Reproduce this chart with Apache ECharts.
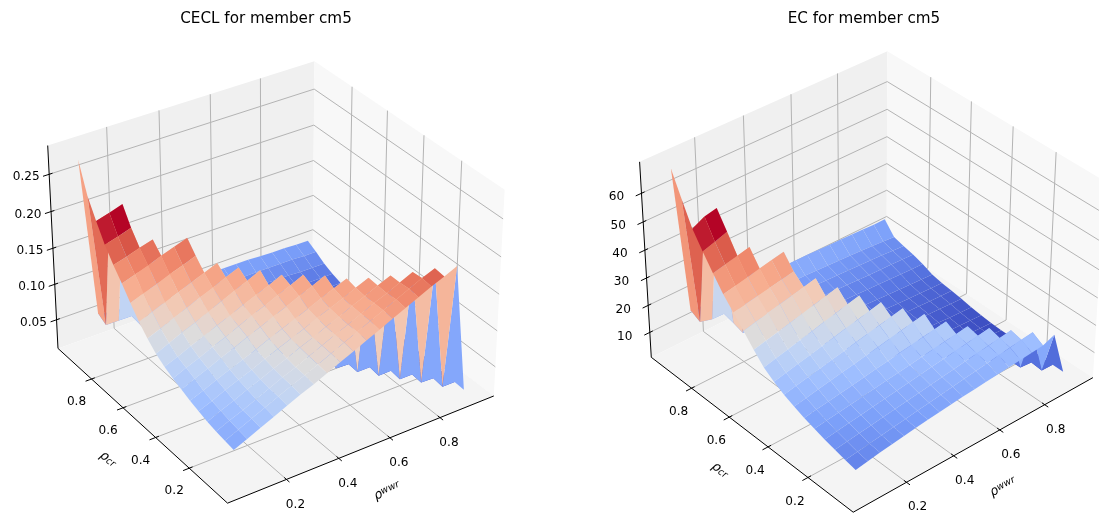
<!DOCTYPE html>
<html><head><meta charset="utf-8">
<style>html,body{margin:0;padding:0;background:#fff}#c{width:1099px;height:518px}</style>
<script src="https://cdn.jsdelivr.net/npm/echarts@6/dist/echarts.min.js"></script>
</head><body><div id="c"></div>
<script>
// rho^wwr values (columns) and p_cr values (rows)
const rhoValues=[.05,.10,.15,.20,.25,.30,.35,.40,.45,.50,.55,.60,.65,.70,.75,.80,.85,.90,.95];
const crValues=[.05,.10,.15,.20,.25,.30,.35,.40,.45,.50,.55,.60,.65,.70,.75,.80,.85,.90,.95];
const rhoTicks=[.2,.4,.6,.8];
const crTicks=[.2,.4,.6,.8];
const ceclTicks=[.05,.10,.15,.20,.25];
const ecTicks=[10,20,30,40,50,60];
const titles=['CECL for member cm5','EC for member cm5'];
const ceclZ=[
[.056,.064,.072,.080,.088,.096,.103,.111,.119,.127,.135,.143,.151,.159,.167,.175,.182,.190,.013],
[.058,.066,.074,.082,.090,.098,.105,.113,.121,.129,.137,.145,.153,.161,.169,.177,.184,.014,.014],
[.060,.068,.075,.083,.091,.099,.106,.114,.122,.130,.137,.145,.153,.160,.168,.176,.017,.016,.015],
[.063,.071,.078,.086,.093,.101,.108,.116,.123,.131,.138,.146,.153,.161,.168,.018,.018,.017,.016],
[.067,.074,.082,.089,.096,.104,.111,.118,.125,.133,.140,.147,.155,.162,.020,.020,.019,.018,.017],
[.071,.078,.086,.093,.100,.107,.115,.122,.129,.136,.144,.151,.158,.022,.022,.021,.020,.019,.018],
[.076,.084,.091,.099,.106,.114,.121,.129,.136,.144,.151,.159,.024,.023,.023,.022,.021,.020,.019],
[.081,.089,.096,.104,.111,.119,.127,.134,.142,.149,.157,.026,.025,.024,.024,.023,.022,.021,.020],
[.087,.094,.102,.109,.117,.124,.132,.139,.146,.154,.028,.027,.026,.025,.024,.024,.023,.022,.021],
[.095,.103,.111,.118,.126,.134,.142,.149,.157,.030,.029,.028,.027,.026,.025,.024,.024,.023,.022],
[.106,.113,.121,.128,.136,.143,.151,.158,.032,.031,.030,.029,.028,.027,.026,.025,.024,.024,.023],
[.119,.126,.133,.140,.147,.154,.161,.034,.033,.032,.031,.030,.029,.028,.027,.026,.025,.025,.024],
[.135,.142,.148,.155,.161,.168,.036,.035,.034,.033,.032,.031,.030,.029,.028,.027,.026,.026,.025],
[.152,.158,.164,.171,.177,.183,.039,.037,.036,.035,.034,.033,.032,.031,.030,.029,.028,.028,.027],
[.168,.173,.179,.184,.043,.042,.041,.040,.039,.038,.037,.036,.035,.034,.033,.032,.031,.030,.030],
[.186,.191,.197,.046,.045,.044,.043,.042,.041,.040,.039,.038,.037,.036,.036,.035,.034,.034,.034],
[.209,.214,.220,.048,.047,.046,.045,.045,.044,.044,.043,.043,.042,.042,.041,.041,.040,.040,.040],
[.234,.050,.050,.050,.050,.050,.050,.050,.050,.050,.050,.050,.049,.049,.049,.049,.049,.048,.048],
[.273,.057,.052,.052,.053,.053,.054,.055,.056,.057,.058,.058,.058,.058,.057,.056,.056,.055,.055]];
const ecZ=[
[8.5,9.3,10,10.6,11.2,11.8,12.4,12.9,13.3,13.8,14.2,14.6,15,15.4,15.8,16.2,16.6,18.3,2.3],
[9.3,9.9,10.5,11.1,11.7,12.3,12.9,13.5,14.1,14.7,15.3,15.9,16.5,17.1,17.7,18.3,18.9,2.4,2.3],
[10.2,10.8,11.4,12,12.6,13.2,13.8,14.4,15,15.6,16.2,16.8,17.4,18,18.6,19.2,3.2,2.8,2.4],
[11.2,11.8,12.4,13,13.6,14.2,14.8,15.4,16.1,16.7,17.3,17.9,18.5,19.1,19.7,3.4,3.1,2.8,2.4],
[12.3,12.9,13.5,14.1,14.7,15.3,15.9,16.4,17,17.6,18.2,18.8,19.4,20,3.6,3.3,3,2.7,2.4],
[13.5,14.2,14.8,15.5,16.1,16.8,17.5,18.1,18.8,19.4,20.1,20.7,21.4,3.9,3.6,3.3,3,2.7,2.4],
[14.9,15.7,16.5,17.3,18.1,18.9,19.7,20.5,21.3,22.1,22.9,23.7,4.2,3.9,3.6,3.3,3,2.7,2.4],
[16.5,17.4,18.3,19.2,20.1,21,21.9,22.8,23.7,24.6,25.5,4.5,4.2,3.9,3.6,3.3,3,2.8,2.6],
[18.5,19.5,20.5,21.4,22.4,23.4,24.4,25.3,26.3,27.3,5,4.7,4.4,4.1,3.9,3.6,3.4,3.2,3],
[21,22.1,23.1,24.2,25.2,26.3,27.3,28.4,29.4,5.8,5.5,5.2,4.9,4.6,4.4,4.2,3.9,3.7,3.5],
[24.8,25.8,26.8,27.8,28.9,29.9,30.9,32,6.6,6.3,6,5.7,5.4,5.2,5,4.8,4.6,4.4,4.2],
[29,30,31,32,32.9,33.9,34.9,7.4,7.1,6.8,6.5,6.2,5.9,5.7,5.5,5.3,5.1,4.9,4.8],
[33,33.8,34.6,35.4,36.2,37,8.4,8.1,7.8,7.5,7.2,6.9,6.6,6.3,6,5.8,5.6,5.4,5.2],
[37,37.9,38.8,39.8,40.7,41.6,9.3,9,8.7,8.4,8.1,7.8,7.5,7.2,6.9,6.7,6.5,6.2,6],
[42,43,44,45,10.3,10.1,9.9,9.7,9.5,9.3,9.1,8.9,8.7,8.5,8.3,8.1,7.9,7.7,7.6],
[47.2,48.6,50,11.4,11.3,11.1,11,10.8,10.6,10.4,10.2,10,9.8,9.6,9.4,9.3,9.1,9,8.8],
[52.8,55,56,12.5,12.4,12.3,12.2,12,11.8,11.6,11.4,11.2,11,10.8,10.6,10.4,10.2,9.9,9.6],
[60.7,14.7,13.6,13.4,13.3,13.2,13.1,13,12.9,12.8,12.7,12.5,12.3,12.1,11.9,11.6,11.3,11,10.7],
[69,16.5,16,16,16,16,16,16,16,16,16,16,15.8,15.6,15.5,15.4,15.2,15,15]];
const coolwarm=['#3b4cc0','#5977e3','#7b9ff9','#9ebeff','#c0d4f5','#dddcdc','#f2cbb7','#f7ac8e','#ee8468','#d65244','#b40426'];

const FONT='"DejaVu Sans"';
const views=[
 {z:ceclZ,zTicks:ceclTicks,zFmt:v=>v.toFixed(2),zlim:[.009,.288],el:32,az:-124,cx:273,cy:272,xr:[-1,1],
  tickOff:{rho:[9,25],cr:[-15,23],z:[-23,3]},
  rhoLab:[387,491,-25],crLab:[108,459,35],titleX:261},
 {z:ecZ,zTicks:ecTicks,zFmt:v=>String(v),zlim:[.65,70.8],el:35.7,az:-130.7,cx:871,cy:272,xr:[-.8,.8],
  tickOff:{rho:[11,25],cr:[-13,24],z:[-25,4]},
  rhoLab:[1003,487,-28],crLab:[720,470,35],titleX:859}];
const SCALE=270, A=1.19, C=.893, DIST=10, LIM=[-.02,1.02];
const fr=(v,l)=>(v-l[0])/(l[1]-l[0]);

function makeCam(el,az){
 const e=el*Math.PI/180,a=az*Math.PI/180;
 return {r:[-Math.sin(a),Math.cos(a),0],
  t:[-Math.sin(e)*Math.cos(a),-Math.sin(e)*Math.sin(a),Math.cos(e)],
  n:[Math.cos(e)*Math.cos(a),Math.cos(e)*Math.sin(a),Math.sin(e)]};
}
const dot=(p,q)=>p[0]*q[0]+p[1]*q[1]+p[2]*q[2];
const world=(u,v,w)=>[(u-.5)*A,(v-.5)*A,(w-.5)*C];
function proj(cam,u,v,w){
 const P=world(u,v,w),f=DIST/(DIST-dot(P,cam.n));
 return [dot(P,cam.r)*f,dot(P,cam.t)*f];
}

const grids=[],xAxes=[],yAxes=[],series=[],titleOpt=[];
views.forEach((V,k)=>{
 const cam=makeCam(V.el,V.az);
 const X0=V.xr[0],X1=V.xr[1],Y0=-.9,Y1=.95;
 grids.push({left:V.cx+X0*SCALE,width:(X1-X0)*SCALE,top:V.cy-Y1*SCALE,height:(Y1-Y0)*SCALE,containLabel:false,show:false});
 xAxes.push({type:'value',gridIndex:k,min:X0,max:X1,show:false});
 yAxes.push({type:'value',gridIndex:k,min:Y0,max:Y1,show:false});

 // frame: panes, grid lines, axis lines, ticks, labels
 const items=[];
 const poly=(pts,fill)=>items.push({kind:'poly',pts,fill});
 const line=(a,b,stroke,width)=>items.push({kind:'line',a,b,stroke,width});
 const label=(pt,off,text,extra)=>items.push(Object.assign({kind:'text',pt,off,text},extra||{}));
 poly([[0,1,0],[1,1,0],[1,1,1],[0,1,1]],'#f0f0f0');
 poly([[1,0,0],[1,1,0],[1,1,1],[1,0,1]],'#f8f8f8');
 poly([[0,0,0],[1,0,0],[1,1,0],[0,1,0]],'#f4f4f4');
 const GC='#b4b4b4',GW=1;
 rhoTicks.forEach(t=>{const u=fr(t,LIM);line([u,0,0],[u,1,0],GC,GW);line([u,1,0],[u,1,1],GC,GW);});
 crTicks.forEach(t=>{const v=fr(t,LIM);line([0,v,0],[1,v,0],GC,GW);line([1,v,0],[1,v,1],GC,GW);});
 V.zTicks.forEach(t=>{const w=fr(t,V.zlim);line([0,1,w],[1,1,w],GC,GW);line([1,1,w],[1,0,w],GC,GW);});
 line([0,0,0],[1,0,0],'#000',1);line([0,0,0],[0,1,0],'#000',1);line([0,1,0],[0,1,1],'#000',1);
 rhoTicks.forEach(t=>{const u=fr(t,LIM);line([u,-.016,0],[u,.012,0],'#000',1);label([u,0,0],V.tickOff.rho,t.toFixed(1));});
 crTicks.forEach(t=>{const v=fr(t,LIM);line([-.022,v,0],[.012,v,0],'#000',1);label([0,v,0],V.tickOff.cr,t.toFixed(1));});
 V.zTicks.forEach(t=>{const w=fr(t,V.zlim);line([-.022,1,w],[.012,1,w],'#000',1);label([0,1,w],V.tickOff.z,V.zFmt(t));});
 series.push({type:'custom',coordinateSystem:'cartesian2d',xAxisIndex:k,yAxisIndex:k,silent:true,z:1,animation:false,
  data:items.map((_,i)=>[0,0,i]),clip:false,
  renderItem(params,api){
   const it=items[params.dataIndex];
   const c=p=>api.coord(proj(cam,p[0],p[1],p[2]));
   if(it.kind==='poly') return {type:'polygon',shape:{points:it.pts.map(c)},style:{fill:it.fill}};
   if(it.kind==='line'){const a=c(it.a),b=c(it.b);
     return {type:'line',shape:{x1:a[0],y1:a[1],x2:b[0],y2:b[1]},style:{stroke:it.stroke,lineWidth:it.width}};}
   const q=c(it.pt);
   return {type:'text',x:q[0]+it.off[0],y:q[1]+it.off[1],style:{text:it.text,align:'center',verticalAlign:'middle',fill:'#000',font:'12.1px '+FONT}};
  }});

 // surface
 const Z=V.z,cells=[];
 let lo=Infinity,hi=-Infinity;
 for(let j=0;j<crValues.length-1;j++)for(let i=0;i<rhoValues.length-1;i++){
  const avg=(Z[j][i]+Z[j][i+1]+Z[j+1][i]+Z[j+1][i+1])/4;
  lo=Math.min(lo,avg);hi=Math.max(hi,avg);
  const pts=[[i,j],[i+1,j],[i+1,j+1],[i,j+1]].map(([a,b])=>[fr(rhoValues[a],LIM),fr(crValues[b],LIM),fr(Z[b][a],V.zlim)]);
  let d=0;pts.forEach(p=>{d+=dot(world(p[0],p[1],p[2]),cam.n)/4;});
  cells.push({pts,avg,d});
 }
 cells.sort((a,b)=>a.d-b.d);
 series.push({type:'custom',coordinateSystem:'cartesian2d',xAxisIndex:k,yAxisIndex:k,silent:true,z:2,animation:false,
  data:cells.map((c,i)=>[0,0,i]),clip:false,
  renderItem(params,api){
   const cell=cells[params.dataIndex];
   return {type:'polygon',shape:{points:cell.pts.map(p=>api.coord(proj(cam,p[0],p[1],p[2])))},
    style:{fill:echarts.color.lerp((cell.avg-lo)/(hi-lo),coolwarm)}};
  }});

 titleOpt.push({text:titles[k],left:V.titleX,top:7,textAlign:'center',
  textStyle:{fontFamily:FONT,fontWeight:'normal',fontSize:15.2,color:'#000'}});
});

// axis names as rotated real text
const nameItems=[];
views.forEach(V=>{
 nameItems.push({type:'text',x:V.rhoLab[0],y:V.rhoLab[1],rotation:-V.rhoLab[2]*Math.PI/180,
  style:{text:'{a|ρ}{b|wwr}',align:'center',verticalAlign:'middle',fill:'#000',
   rich:{a:{fontFamily:FONT,fontStyle:'italic',fontSize:13,fill:'#000'},b:{fontFamily:FONT,fontStyle:'italic',fontSize:9.5,verticalAlign:'top',fill:'#000'}}}});
 nameItems.push({type:'text',x:V.crLab[0],y:V.crLab[1],rotation:-V.crLab[2]*Math.PI/180,
  style:{text:'{a|ρ}{b|cr}',align:'center',verticalAlign:'middle',fill:'#000',
   rich:{a:{fontFamily:FONT,fontStyle:'italic',fontSize:13,fill:'#000'},b:{fontFamily:FONT,fontStyle:'italic',fontSize:9.5,verticalAlign:'bottom',fill:'#000'}}}});
});

const chart=echarts.init(document.getElementById('c'),null,{renderer:'canvas'});
chart.setOption({animation:false,backgroundColor:'#fff',title:titleOpt,grid:grids,xAxis:xAxes,yAxis:yAxes,series,graphic:{elements:nameItems}});
</script></body></html>
